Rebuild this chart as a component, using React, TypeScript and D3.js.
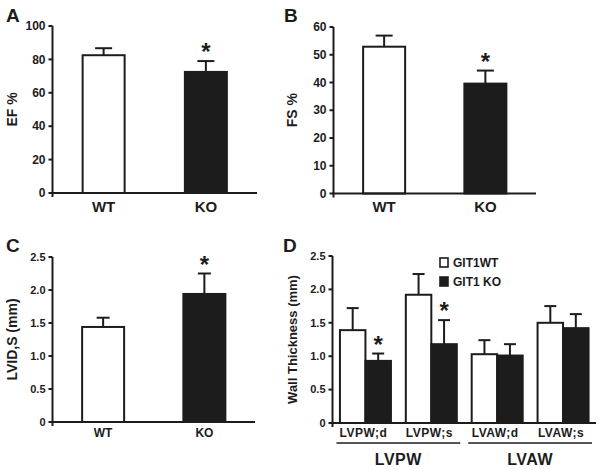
import React from "react";
import * as d3 from "d3";

// ---------- data ----------
const efCategories = ["WT", "KO"];
const efMeans = [82.5, 72.5];
const efErrors = [4.2, 6.5];
const efSignificant = [false, true];
const efTicks = [0, 20, 40, 60, 80, 100];

const fsCategories = ["WT", "KO"];
const fsMeans = [52.9, 39.6];
const fsErrors = [4.0, 4.7];
const fsSignificant = [false, true];
const fsTicks = [0, 10, 20, 30, 40, 50, 60];

const lvidCategories = ["WT", "KO"];
const lvidMeans = [1.44, 1.94];
const lvidErrors = [0.14, 0.31];
const lvidSignificant = [false, true];
const lvidTicks = [0, 0.5, 1.0, 1.5, 2.0, 2.5];

const wallCategories = ["LVPW;d", "LVPW;s", "LVAW;d", "LVAW;s"];
const wallGroups = ["LVPW", "LVAW"];
const wallSeries = ["GIT1WT", "GIT1 KO"];
const wallWtMeans = [1.39, 1.92, 1.03, 1.5];
const wallWtErrors = [0.33, 0.31, 0.21, 0.25];
const wallKoMeans = [0.93, 1.18, 1.01, 1.42];
const wallKoErrors = [0.11, 0.36, 0.17, 0.21];
const wallKoSignificant = [true, true, false, false];
const wallTicks = [0, 0.5, 1.0, 1.5, 2.0, 2.5];

const INK = "#1c1c1c";
const FONT = "'Liberation Sans', Arial, Helvetica, sans-serif";

type SimpleProps = {
  letter: string;
  yLabel: string;
  categories: string[];
  means: number[];
  errors: number[];
  significant: boolean[];
  ticks: number[];
  fmt: (v: number) => string;
  x0: number;
  x1: number;
  yTop: number;
  yBottom: number;
  barWidth: number;
  capWidth: number;
  tickFont: number;
  catFont: number;
  catBaseline: number;
  labelX: number;
  labelFont: number;
  letterX: number;
  letterY: number;
};

function YAxis({ x, y, ticks, fmt, font, top, bottom }: any) {
  return (
    <g>
      <line x1={x} x2={x} y1={top} y2={bottom + 4} stroke={INK} strokeWidth={2} />
      {ticks.map((t: number) => (
        <g key={t}>
          <line x1={x - 4} x2={x} y1={y(t)} y2={y(t)} stroke={INK} strokeWidth={2} />
          <text
            x={x - 7}
            y={y(t)}
            dy="0.35em"
            textAnchor="end"
            fontSize={font}
            fontWeight="bold"
            fill={INK}
          >
            {fmt(t)}
          </text>
        </g>
      ))}
    </g>
  );
}

function Star({ x, y }: { x: number; y: number }) {
  return (
    <text x={x} y={y} textAnchor="middle" fontSize={24} fontWeight="bold" fill={INK}>
      *
    </text>
  );
}

function SimplePanel(p: SimpleProps) {
  const y = d3.scaleLinear().domain([0, p.ticks[p.ticks.length - 1]]).range([p.yBottom, p.yTop]);
  const x = d3.scalePoint<string>().domain(p.categories).range([p.x0, p.x1]).padding(0.5);
  const midY = (p.yTop + p.yBottom) / 2;
  return (
    <g>
      <text x={p.letterX} y={p.letterY} fontSize={19} fontWeight="bold" fill={INK}>
        {p.letter}
      </text>
      <text
        transform={`translate(${p.labelX},${midY}) rotate(-90)`}
        textAnchor="middle"
        fontSize={p.labelFont}
        fontWeight="bold"
        fill={INK}
      >
        {p.yLabel}
      </text>
      {p.categories.map((c, i) => {
        const cx = x(c)!;
        const top = y(p.means[i]);
        const errTop = y(p.means[i] + p.errors[i]);
        return (
          <g key={c}>
            <line x1={cx} x2={cx} y1={top} y2={errTop} stroke={INK} strokeWidth={2} />
            <line
              x1={cx - p.capWidth / 2}
              x2={cx + p.capWidth / 2}
              y1={errTop}
              y2={errTop}
              stroke={INK}
              strokeWidth={2}
            />
            <rect
              x={cx - p.barWidth / 2}
              y={top}
              width={p.barWidth}
              height={p.yBottom - top}
              fill={i === 0 ? "#fff" : INK}
              stroke={INK}
              strokeWidth={2}
            />
            {p.significant[i] && <Star x={cx} y={errTop - 1} />}
            <text
              x={cx}
              y={p.catBaseline}
              textAnchor="middle"
              fontSize={p.catFont}
              fontWeight="bold"
              fill={INK}
            >
              {c}
            </text>
          </g>
        );
      })}
      <line x1={p.x0 - 1} x2={p.x1} y1={p.yBottom} y2={p.yBottom} stroke={INK} strokeWidth={2} />
      <YAxis x={p.x0} y={y} ticks={p.ticks} fmt={p.fmt} font={p.tickFont} top={p.yTop} bottom={p.yBottom} />
    </g>
  );
}

function WallPanel() {
  const x0 = 332.5;
  const x1 = 596;
  const yTop = 256;
  const yBottom = 423;
  const y = d3.scaleLinear().domain([0, 2.5]).range([yBottom, yTop]);
  const x = d3.scalePoint<string>().domain(wallCategories).range([x0, x1]).padding(0.5);
  const bw = 25.5;
  const cap = 12;
  const groupOf = (c: string) => c.split(";")[0];
  const fmt = (v: number) => (v === 0 ? "0" : v.toFixed(1));
  const series = [
    { means: wallWtMeans, errors: wallWtErrors, sig: [false, false, false, false], fill: "#fff", off: -bw / 2 },
    { means: wallKoMeans, errors: wallKoErrors, sig: wallKoSignificant, fill: INK, off: bw / 2 },
  ];
  return (
    <g>
      <text x={283} y={252} fontSize={19} fontWeight="bold" fill={INK}>
        D
      </text>
      <text
        transform={`translate(297,${(yTop + yBottom) / 2}) rotate(-90)`}
        textAnchor="middle"
        fontSize={13}
        fontWeight="bold"
        fill={INK}
      >
        Wall Thickness (mm)
      </text>
      {series.map((s, si) =>
        wallCategories.map((c, i) => {
          const cx = x(c)! + s.off;
          const top = y(s.means[i]);
          const errTop = y(s.means[i] + s.errors[i]);
          return (
            <g key={si + c}>
              <line x1={cx} x2={cx} y1={top} y2={errTop} stroke={INK} strokeWidth={2} />
              <line x1={cx - cap / 2} x2={cx + cap / 2} y1={errTop} y2={errTop} stroke={INK} strokeWidth={2} />
              <rect
                x={cx - bw / 2}
                y={top}
                width={bw}
                height={yBottom - top}
                fill={s.fill}
                stroke={INK}
                strokeWidth={2}
              />
              {s.sig[i] && <Star x={cx} y={errTop - 1} />}
            </g>
          );
        })
      )}
      <line x1={x0 - 1} x2={x1} y1={yBottom} y2={yBottom} stroke={INK} strokeWidth={2} />
      <YAxis x={x0} y={y} ticks={wallTicks} fmt={fmt} font={11} top={yTop} bottom={yBottom} />
      {wallCategories.map((c) => (
        <text
          key={c}
          x={x(c)! - 2}
          y={437}
          textAnchor="middle"
          fontSize={12}
          fontWeight="bold"
          fill={INK}
          letterSpacing={0.5}
        >
          {c}
        </text>
      ))}
      {wallGroups.map((g) => {
        const members = wallCategories.filter((c) => groupOf(c) === g);
        const left = x(members[0])! - x.step() / 2 + 4;
        const right = x(members[members.length - 1])! + x.step() / 2 - 4;
        return (
          <g key={g}>
            <line x1={left} x2={right} y1={443} y2={443} stroke={INK} strokeWidth={1.5} />
            <text
              x={(left + right) / 2}
              y={465}
              textAnchor="middle"
              fontSize={16}
              fontWeight="bold"
              fill={INK}
              letterSpacing={0.5}
            >
              {g}
            </text>
          </g>
        );
      })}
      {wallSeries.map((s, i) => (
        <g key={s} transform={`translate(440,${258 + i * 19})`}>
          <rect x={0} y={0} width={8} height={9} fill={i === 0 ? "#fff" : INK} stroke={INK} strokeWidth={1.6} />
          <text x={13} y={9} fontSize={12} fontWeight="bold" fill={INK}>
            {s}
          </text>
        </g>
      ))}
    </g>
  );
}

export default function App() {
  const intFmt = (v: number) => String(v);
  const decFmt = (v: number) => (v === 0 ? "0" : v.toFixed(1));
  return (
    <svg
      width={601}
      height={470}
      style={{ position: "absolute", left: 0, top: 0, background: "#fff" }}
      fontFamily={FONT}
    >
      <rect width={601} height={470} fill="#fff" />
      <SimplePanel
        letter="A"
        yLabel="EF %"
        categories={efCategories}
        means={efMeans}
        errors={efErrors}
        significant={efSignificant}
        ticks={efTicks}
        fmt={intFmt}
        x0={52.5}
        x1={257}
        yTop={26}
        yBottom={193}
        barWidth={42}
        capWidth={17}
        tickFont={12}
        catFont={15}
        catBaseline={212}
        labelX={17}
        labelFont={14}
        letterX={6}
        letterY={22}
      />
      <SimplePanel
        letter="B"
        yLabel="FS %"
        categories={fsCategories}
        means={fsMeans}
        errors={fsErrors}
        significant={fsSignificant}
        ticks={fsTicks}
        fmt={intFmt}
        x0={333.5}
        x1={536}
        yTop={27}
        yBottom={193.5}
        barWidth={42}
        capWidth={17}
        tickFont={12}
        catFont={15}
        catBaseline={212}
        labelX={297}
        labelFont={14}
        letterX={284}
        letterY={22}
      />
      <SimplePanel
        letter="C"
        yLabel="LVID,S (mm)"
        categories={lvidCategories}
        means={lvidMeans}
        errors={lvidErrors}
        significant={lvidSignificant}
        ticks={lvidTicks}
        fmt={decFmt}
        x0={52.5}
        x1={255}
        yTop={257}
        yBottom={422}
        barWidth={42}
        capWidth={13}
        tickFont={11}
        catFont={12}
        catBaseline={437}
        labelX={17}
        labelFont={14}
        letterX={6}
        letterY={252}
      />
      <WallPanel />
    </svg>
  );
}
